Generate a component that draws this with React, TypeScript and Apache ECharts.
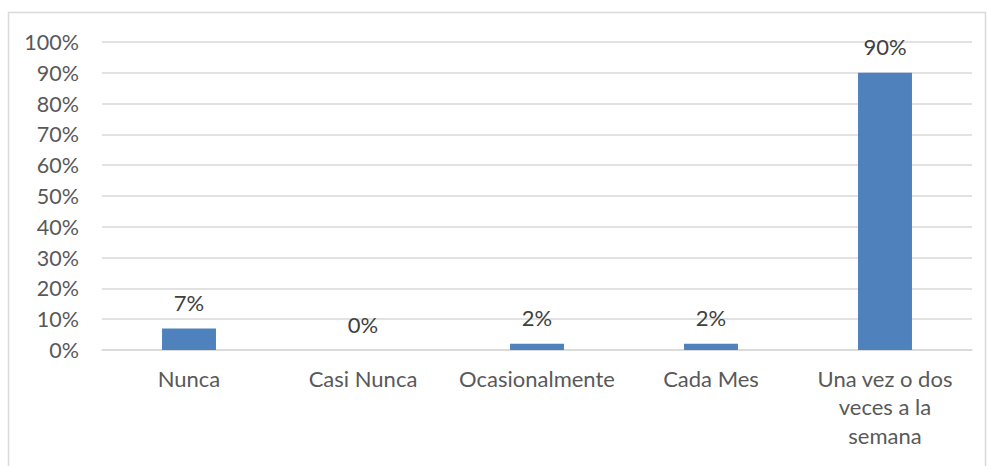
import React, { useEffect, useRef } from "react";
import * as echarts from "echarts";

const categories = ["Nunca", "Casi Nunca", "Ocasionalmente", "Cada Mes", "Una vez o dos\nveces a la\nsemana"];
const values = [7, 0, 2, 2, 90];
const yTicks = [0, 10, 20, 30, 40, 50, 60, 70, 80, 90, 100];

export default function App() {
  const ref = useRef<HTMLDivElement>(null);
  useEffect(() => {
    if (!ref.current) return;
    const chart = echarts.init(ref.current, null, { renderer: "svg" });
    const font = "Lato, 'Liberation Sans', sans-serif";
    chart.setOption({
      animation: false,
      backgroundColor: "#ffffff",
      textStyle: { fontFamily: font },
      graphic: [
        {
          type: "rect",
          shape: { x: 8.5, y: 12.5, width: 977, height: 470 },
          style: { fill: "none", stroke: "#d9d9d9", lineWidth: 1.5 },
          silent: true,
        },
      ],
      grid: { left: 102, right: 15, top: 42, bottom: 116, containLabel: false },
      xAxis: {
        type: "category",
        data: categories,
        axisLine: { show: true, lineStyle: { color: "#d9d9d9", width: 1.5 } },
        axisTick: { show: false },
        axisLabel: {
          color: "#595959",
          fontSize: 22,
          fontFamily: font,
          margin: 14,
          lineHeight: 28.5,
          interval: 0,
        },
      },
      yAxis: {
        type: "value",
        min: 0,
        max: 100,
        interval: 10,
        axisLine: { show: false },
        axisTick: { show: false },
        splitLine: { lineStyle: { color: "#d9d9d9", width: 1.5 } },
        axisLabel: {
          color: "#595959",
          fontSize: 21.5,
          fontFamily: font,
          margin: 23,
          formatter: (v: number) => (yTicks.includes(v) ? v + "%" : ""),
        },
      },
      series: [
        {
          type: "bar",
          data: values,
          barWidth: "31%",
          itemStyle: { color: "#4f81bd" },
          label: {
            show: true,
            position: "top",
            distance: 15,
            color: "#404040",
            fontSize: 22,
            fontFamily: font,
            formatter: (p: any) => p.value + "%",
          },
        },
      ],
    });
    return () => chart.dispose();
  }, []);
  return (
    <div
      ref={ref}
      style={{ position: "absolute", left: 0, top: 0, width: 987, height: 466 }}
    />
  );
}
